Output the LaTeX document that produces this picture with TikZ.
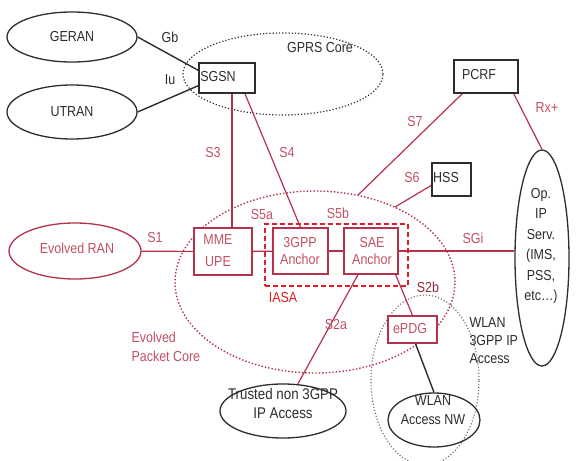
\documentclass[tikz,border=0pt]{standalone}
\usepackage{fontspec}
\setmainfont{Liberation Sans}[FakeStretch=0.86]
\usetikzlibrary{shapes.geometric}
\definecolor{epc}{RGB}{180,50,75}
\definecolor{lbl}{RGB}{195,80,100}
\definecolor{iasa}{RGB}{225,30,35}
\definecolor{ink}{RGB}{45,45,45}
\begin{document}
\begin{tikzpicture}[x=1pt,y=-1pt,
  font=\fontsize{14.5}{16}\selectfont, text=ink,
  box/.style={draw=ink, line width=1.6pt, fill=white, inner sep=0},
  rbox/.style={draw=epc, line width=1.3pt, fill=white, inner sep=0},
  ell/.style={ellipse, draw=ink, line width=1.3pt, inner sep=0},
  rell/.style={ellipse, draw=epc, line width=1.3pt, inner sep=0},
  bline/.style={draw=ink, line width=1.4pt},
  rline/.style={draw=epc, line width=1.2pt},
  rtxt/.style={text=lbl, align=center},
  btxt/.style={text=ink, align=center}]
\useasboundingbox[fill=white] (0,0) rectangle (579,461);

% dotted regions
\node[ellipse, draw=ink, dotted, line width=1.2pt, minimum width=200pt, minimum height=82pt, inner sep=0] (gprs) at (283,74) {};
\node[ellipse, draw=epc, dotted, line width=1.4pt, minimum width=280pt, minimum height=182pt, inner sep=0] (epcore) at (315,282) {};
\node[ellipse, draw=black!60, dotted, line width=1.1pt, minimum width=108pt, minimum height=170pt, inner sep=0] (wlanreg) at (425,380) {};

% ellipses
\node[ell, minimum width=130pt, minimum height=50pt] (geran) at (72,37) {};
\node[ell, minimum width=130pt, minimum height=54pt] (utran) at (72,112) {};
\node[rell, minimum width=132pt, minimum height=56pt] (eran) at (75,251) {};
\node[ell, minimum width=54pt, minimum height=216pt] (op) at (542,258) {};
\node[ell, minimum width=126pt, minimum height=54pt] (trusted) at (283,411) {};
\node[ell, minimum width=92pt, minimum height=54pt] (wnw) at (434,420) {};

% boxes
\node[box, minimum width=56pt, minimum height=30pt] (sgsn) at (227,78) {};
\node[box, minimum width=64pt, minimum height=33pt] (pcrf) at (486,76.5) {};
\node[box, minimum width=39pt, minimum height=33pt] (hss) at (451.5,179.5) {};
\node[rbox, minimum width=58pt, minimum height=47pt] (mme) at (223,251.5) {};
\node[rbox, minimum width=55pt, minimum height=46pt] (a3) at (300.5,251) {};
\node[rbox, minimum width=54pt, minimum height=46pt] (sae) at (371,251) {};
\node[rbox, minimum width=49pt, minimum height=27pt] (epdg) at (412.5,329.5) {};

\coordinate (s7e) at (358,195);
\coordinate (s6e) at (395,207);

% connectors
\draw[bline] (geran.east) -- (sgsn.165);
\draw[bline] (utran.east) -- (sgsn.195);
\draw[rline] ([xshift=5pt]sgsn.south) -- ([xshift=9pt]mme.north);
\draw[rline] ([xshift=18pt]sgsn.south) -- (a3.north);
\draw[rline] ([xshift=9pt]pcrf.south west) -- (s7e);
\draw[rline] ([yshift=-6pt]hss.west) -- (s6e);
\draw[rline] ([xshift=-5pt]pcrf.south east) -- (op.north);
\draw[rline] (eran) -- (mme);
\draw[rline] (mme) -- (a3);
\draw[rline] (a3) -- (sae);
\draw[rline] (sae.east) -- (sae.east -| op.west);
\draw[rline] ([xshift=-3pt]sae.south east) -- (epdg.north);
\draw[rline] (sae) -- (trusted);
\draw[bline] ([xshift=3pt]epdg.south) -- (wnw.north);

% redraw boxes on top of lines
\node[box, minimum width=56pt, minimum height=30pt] at (sgsn) {};
\node[box, minimum width=64pt, minimum height=33pt] at (pcrf) {};
\node[box, minimum width=39pt, minimum height=33pt] at (hss) {};
\node[rbox, minimum width=58pt, minimum height=47pt] at (mme) {};
\node[rbox, minimum width=55pt, minimum height=46pt] at (a3) {};
\node[rbox, minimum width=54pt, minimum height=46pt] at (sae) {};
\node[rbox, minimum width=49pt, minimum height=27pt] at (epdg) {};

% IASA dashed box
\node[draw=iasa, dash pattern=on 5pt off 3pt, line width=1.8pt, minimum width=143pt, minimum height=62pt, inner sep=0] (iasabox) at (336.5,255) {};

% texts
\node[btxt] (tgeran) at (geran) {GERAN};
\node[btxt] (tutran) at (utran) {UTRAN};
\node[btxt] (tsgsn) at (218,77) {SGSN};
\node[btxt] (tpcrf) at (479,75) {PCRF};
\node[btxt] (thss) at (446,178) {HSS};
\node[btxt] (tgprs) at (320,48) {GPRS Core};
\node[btxt] (tgb) at (170,37) {Gb};
\node[btxt] (tiu) at (170,80) {Iu};
\node[rtxt] (teran) at (77,248) {Evolved RAN};
\node[rtxt, font=\fontsize{14.5}{22}\selectfont] (tmme) at (218,251) {MME\\UPE};
\node[rtxt, font=\fontsize{14.5}{17}\selectfont] (ta3) at (300,251.5) {3GPP\\Anchor};
\node[rtxt, font=\fontsize{14.5}{17}\selectfont] (tsae) at (372,251.5) {SAE\\Anchor};
\node[rtxt] (tepdg) at (410,329) {ePDG};
\node[rtxt] (ts1) at (155,238) {S1};
\node[rtxt] (ts3) at (213,153) {S3};
\node[rtxt] (ts4) at (287,153) {S4};
\node[rtxt] (ts7) at (415,122) {S7};
\node[rtxt] (ts6) at (412,178) {S6};
\node[rtxt] (trx) at (547,108) {Rx+};
\node[rtxt] (ts5a) at (262,215) {S5a};
\node[rtxt] (ts5b) at (338,213) {S5b};
\node[rtxt] (tsgi) at (473,238) {SGi};
\node[text=iasa] (tiasa) at (283,298) {IASA};
\node[text=epc!80!black] (ts2b) at (428,287) {S2b};
\node[rtxt] (ts2a) at (336,325) {S2a};
\node[rtxt, anchor=west, align=left, font=\fontsize{14.5}{19}\selectfont] (tepc) at (128,347) {Evolved\\Packet Core};
\node[btxt, anchor=west, align=left, font=\fontsize{14.5}{18}\selectfont] (twlan) at (466,341) {WLAN\\3GPP IP\\Access};
\node[btxt, font=\fontsize{14.5}{20.5}\selectfont] (top) at (541,246) {Op.\\IP\\Serv.\\(IMS,\\PSS,\\etc\dots)};
\node[btxt, font=\fontsize{15.5}{19}\selectfont] (ttr) at (283,403) {Trusted non 3GPP\\IP Access};
\node[btxt, font=\fontsize{14.5}{19}\selectfont] (twnw) at (433,410) {WLAN\\Access NW};
\end{tikzpicture}
\end{document}
